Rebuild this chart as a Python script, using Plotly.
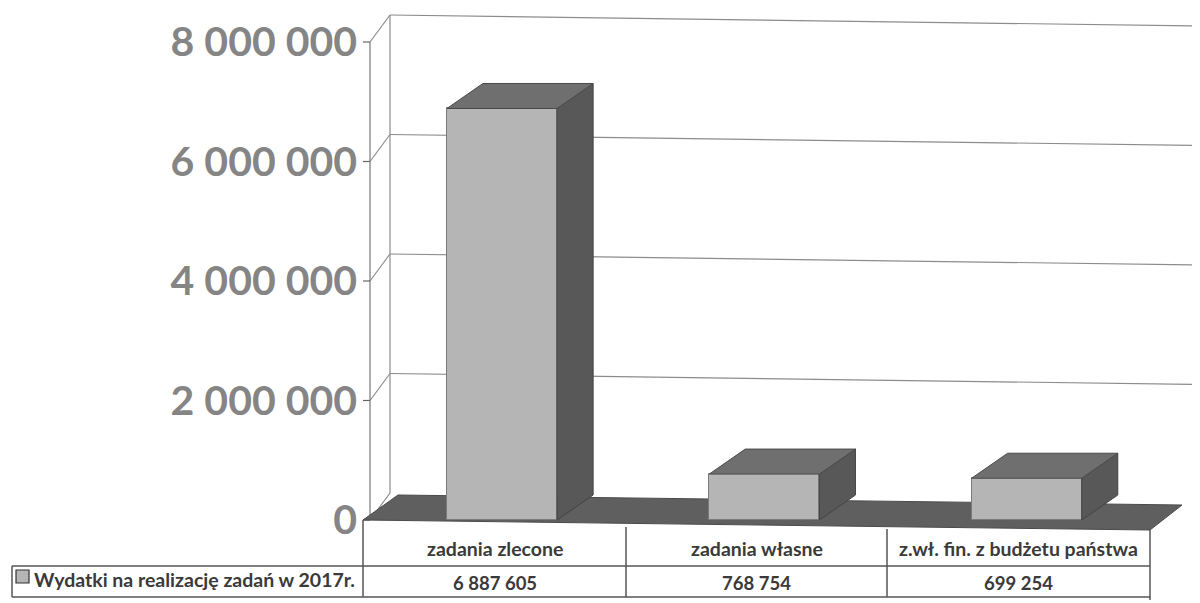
import plotly.graph_objects as go

# ---------------- data ----------------
categories = ["zadania zlecone", "zadania własne", "z.wł. fin. z budżetu państwa"]
values = [6887605, 768754, 699254]
value_labels = ["6 887 605", "768 754", "699 254"]
series_name = "Wydatki na realizację zadań w 2017r."
tick_values = [0, 2000000, 4000000, 6000000, 8000000]

# ---------------- geometry helpers (styling) ----------------
# page body has an 8px margin, so figure coords = image coords - 8
OFF = 8
W, H = 1200 - OFF, 603 - OFF
PLOT_LEFT_I, PLOT_TOP_I, PLOT_BOTTOM_I = 363, 8, 540
L_MARGIN = PLOT_LEFT_I - OFF
T_MARGIN = PLOT_TOP_I - OFF
B_MARGIN = H - (PLOT_BOTTOM_I - OFF)
PLOT_W = W - L_MARGIN
PLOT_H = PLOT_BOTTOM_I - PLOT_TOP_I
PX_PER_CAT = 787 / 3.0
VAL_PER_PX = 8000000 / 478.0
X_RANGE = [-0.5, -0.5 + PLOT_W / PX_PER_CAT]
Y_RANGE = [-(PLOT_BOTTOM_I - 520) * VAL_PER_PX, 8000000 + (42 - PLOT_TOP_I) * VAL_PER_PX]


def px2x(px):
    return (px - PLOT_LEFT_I) / PX_PER_CAT - 0.5


def dpx(p):  # vertical pixel offset to value units
    return p * VAL_PER_PX


def ppx(px):  # paper x from image px
    return (px - PLOT_LEFT_I) / PLOT_W


def ppy(py):  # paper y from image px
    return (PLOT_BOTTOM_I - py) / PLOT_H


BAR_W = 0.42
BAR_SHIFT = 0.03
DX = 36 / PX_PER_CAT
DY = dpx(25)
xs = [0, 1, 2]

fig = go.Figure()

shapes = []
grid_col = "#8c8c8c"
xb_left = px2x(390)
x_front = px2x(370)
x_end = X_RANGE[1]
offL, offR = dpx(27), dpx(16)

# back wall gridlines + left wall connectors
for v in tick_values[1:]:
    shapes.append(dict(type="line", xref="x", yref="y", x0=xb_left, y0=v + offL,
                       x1=x_end, y1=v + offR, line=dict(color=grid_col, width=1.2), layer="below"))
for v in tick_values:
    shapes.append(dict(type="line", xref="x", yref="y", x0=x_front, y0=v,
                       x1=xb_left, y1=v + offL, line=dict(color=grid_col, width=1.2), layer="below"))
    shapes.append(dict(type="line", xref="x", yref="y", x0=px2x(361), y0=v,
                       x1=x_front, y1=v, line=dict(color="#666", width=1.2), layer="below"))
# back-left vertical and front axis
shapes.append(dict(type="line", xref="x", yref="y", x0=xb_left, y0=offL,
                   x1=xb_left, y1=8000000 + offL, line=dict(color=grid_col, width=1.2), layer="below"))
shapes.append(dict(type="line", xref="x", yref="y", x0=x_front, y0=0,
                   x1=x_front, y1=8000000, line=dict(color="#777", width=1.2), layer="below"))

# floor slab
floor_path = "M {} {} L {} {} L {} {} L {} {} Z".format(
    px2x(363), 0, px2x(1150), dpx(-10), px2x(1182), dpx(15), px2x(398), dpx(25))
shapes.append(dict(type="path", xref="x", yref="y", path=floor_path,
                   fillcolor="#5f5f5f", line=dict(color="#4a4a4a", width=1), layer="below"))

# ---------------- 3D faces of bars ----------------
top_x, top_y, side_x, side_y = [], [], [], []
for c, v in zip(xs, values):
    xl, xr = c + BAR_SHIFT - BAR_W / 2, c + BAR_SHIFT + BAR_W / 2
    top_x += [xl, xr, xr + DX, xl + DX, xl, None]
    top_y += [v, v, v + DY, v + DY, v, None]
    side_x += [xr, xr + DX, xr + DX, xr, xr, None]
    side_y += [v, v + DY, DY, 0, v, None]

fig.add_trace(go.Scatter(x=side_x, y=side_y, fill="toself", fillcolor="#585858",
                         line=dict(color="#444", width=1), mode="lines",
                         hoverinfo="skip", showlegend=False))
fig.add_trace(go.Scatter(x=top_x, y=top_y, fill="toself", fillcolor="#6f6f6f",
                         line=dict(color="#4a4a4a", width=1), mode="lines",
                         hoverinfo="skip", showlegend=False))
fig.add_trace(go.Bar(x=xs, y=values, width=BAR_W, offset=BAR_SHIFT - BAR_W / 2,
                     name=series_name,
                     marker=dict(color="#b5b5b5", line=dict(color="#7a7a7a", width=1)),
                     showlegend=False))

# ---------------- data table ----------------
tcol = "#555"
tw = 1.5
for (x0, y0, x1, y1) in [(12, 566, 1150, 566), (12, 597, 1150, 597),
                         (12, 566, 12, 597), (363, 520, 363, 597),
                         (626, 527, 626, 597), (887, 529, 887, 597),
                         (1150, 530, 1150, 600)]:
    shapes.append(dict(type="line", xref="paper", yref="paper",
                       x0=ppx(x0), y0=ppy(y0), x1=ppx(x1), y1=ppy(y1),
                       line=dict(color=tcol, width=tw)))
# legend key
shapes.append(dict(type="rect", xref="paper", yref="paper",
                   x0=ppx(16), y0=ppy(583), x1=ppx(29), y1=ppy(570),
                   fillcolor="#b5b5b5", line=dict(color="#333", width=1.2)))

annotations = []
col_centers = [494.5, 756.5, 1018.5]
tfont = dict(family="Lato, 'Open Sans', sans-serif", size=19.5, color="#3a3a3a", weight="bold")
vfont = dict(family="Lato, 'Open Sans', sans-serif", size=18.5, color="#3a3a3a", weight="bold")
for cx, cat, lab in zip(col_centers, categories, value_labels):
    annotations.append(dict(xref="paper", yref="paper", x=ppx(cx), y=ppy(548),
                            text=cat, showarrow=False, font=tfont,
                            xanchor="center", yanchor="middle"))
    annotations.append(dict(xref="paper", yref="paper", x=ppx(cx), y=ppy(583),
                            text=lab, showarrow=False, font=vfont,
                            xanchor="center", yanchor="middle"))
annotations.append(dict(xref="paper", yref="paper", x=ppx(32), y=ppy(579),
                        text=series_name, showarrow=False, font=tfont,
                        xanchor="left", yanchor="middle"))

fig.update_layout(
    width=W, height=H,
    margin=dict(l=L_MARGIN, r=0, t=T_MARGIN, b=B_MARGIN),
    paper_bgcolor="white", plot_bgcolor="white",
    separators=", ",
    shapes=shapes, annotations=annotations,
    xaxis=dict(range=X_RANGE, showgrid=False, zeroline=False, showticklabels=False,
               showline=False, fixedrange=True),
    yaxis=dict(range=Y_RANGE, tickvals=tick_values, tickformat=",d",
               showgrid=False, zeroline=False, showline=False, ticks="",
               ticklabelstandoff=5,
               tickfont=dict(family="Lato, 'Open Sans', sans-serif", size=41,
                             color="#858585", weight="bold")),
    bargap=0,
)

fig.write_html("out.html")
